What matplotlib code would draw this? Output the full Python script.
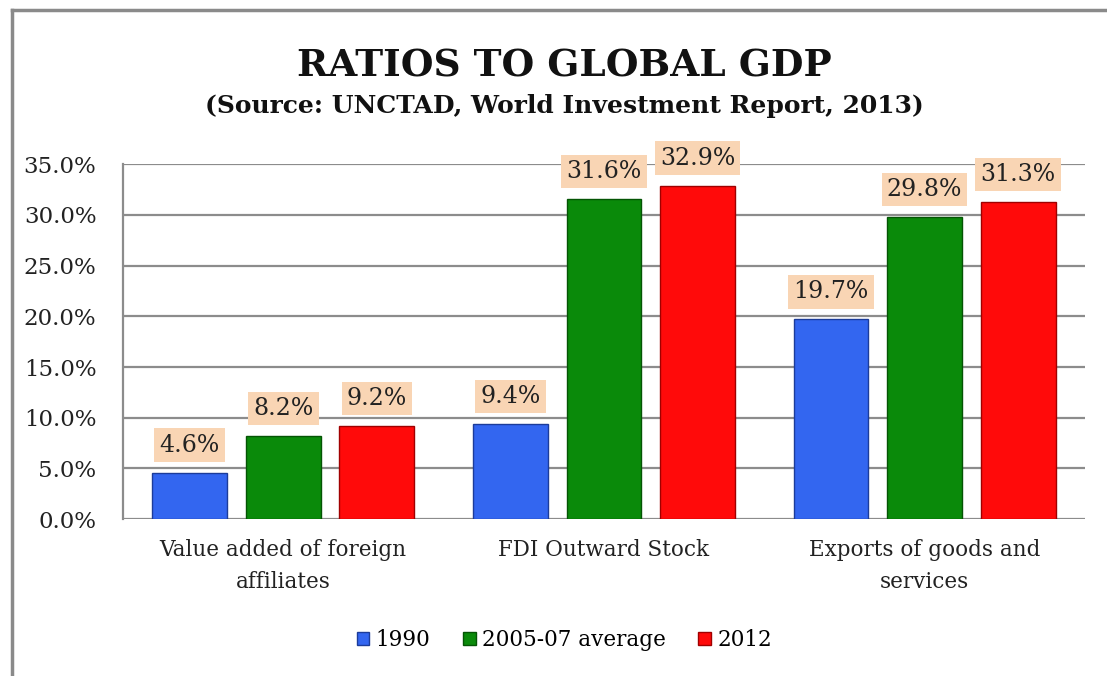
import numpy as np
import matplotlib.pyplot as plt
from matplotlib.lines import Line2D
from matplotlib.patches import Patch

# --------------------------------------------------------------------------------------------
# ** DATA **

categories = ['Value added of foreign\naffiliates', 'FDI Outward Stock', 'Exports of goods and\nservices']
series_names = ['1990', '2005-07 average', '2012']
values_1990 = [4.6, 9.4, 19.7]
values_2005 = [8.2, 31.6, 29.8]
values_2012 = [9.2, 32.9, 31.3]
yticks = [0, 5, 10, 15, 20, 25, 30, 35]

colors = ['#3366F0', '#0A8A0A', '#FF0A0A']
edges = ['#1C3C9A', '#045404', '#A00000']

plt.rcParams['font.family'] = ['DejaVu Serif']

# --------------------------------------------------------------------------------------------
# ** PLOT **

fig = plt.figure(figsize=(11.07, 6.76), dpi=100)
ax = fig.add_axes([0.111, 0.232, 0.869, 0.525])

x = np.arange(len(categories))
width = 0.233
offset = 0.292
all_series = [values_1990, values_2005, values_2012]

for i, vals in enumerate(all_series):
    pos = x + (i - 1) * offset
    bars = ax.bar(pos, vals, width, color=colors[i], edgecolor=edges[i], linewidth=1.0, zorder=3)
    for b, v in zip(bars, vals):
        ax.annotate(f'{v:.1f}%', (b.get_x() + b.get_width() / 2, v),
                    xytext=(0, 11.5), textcoords='offset points', ha='center', va='bottom',
                    fontsize=17, color='#222222', zorder=5, annotation_clip=False,
                    bbox=dict(boxstyle='square,pad=0.22', fc='#F9D5B4', ec='none'))

ax.set_xlim(-0.5, 2.5)
ax.set_ylim(0, 35)
ax.set_yticks(yticks)
ax.set_yticklabels([f'{t:.1f}%' for t in yticks], fontsize=16.5, color='#222222')
ax.set_xticks(x)
ax.set_xticklabels(categories, fontsize=15.5, color='#222222', linespacing=1.6)
ax.tick_params(axis='x', length=0, pad=14)
ax.tick_params(axis='y', length=0, pad=19)
ax.grid(axis='y', color='#8c8c8c', linewidth=1.6, zorder=0)
for s in ['top', 'right', 'bottom']:
    ax.spines[s].set_visible(False)
ax.spines['left'].set_color('#8c8c8c')
ax.spines['left'].set_linewidth(1.6)

fig.text(0.51, 0.902, 'RATIOS TO GLOBAL GDP', ha='center', va='center',
         fontsize=27, fontweight='bold', color='#111111')
fig.text(0.51, 0.843, '(Source: UNCTAD, World Investment Report, 2013)', ha='center',
         va='center', fontsize=18, fontweight='bold', color='#111111')

handles = [Patch(facecolor=colors[i], edgecolor=edges[i]) for i in range(3)]
fig.legend(handles, series_names, loc='center', bbox_to_anchor=(0.51, 0.053), ncol=3,
           frameon=False, fontsize=15.5, handlelength=0.6, handleheight=0.6,
           handletextpad=0.3, columnspacing=1.5)

# outer border (top and left only, the rest is cropped)
fig.add_artist(Line2D([0.0105, 0.0105], [0, 0.985], color='#8a8a8a', lw=2.5, transform=fig.transFigure))
fig.add_artist(Line2D([0.0105, 1], [0.985, 0.985], color='#8a8a8a', lw=2.5, transform=fig.transFigure))

fig.savefig('out.png', dpi=100)
